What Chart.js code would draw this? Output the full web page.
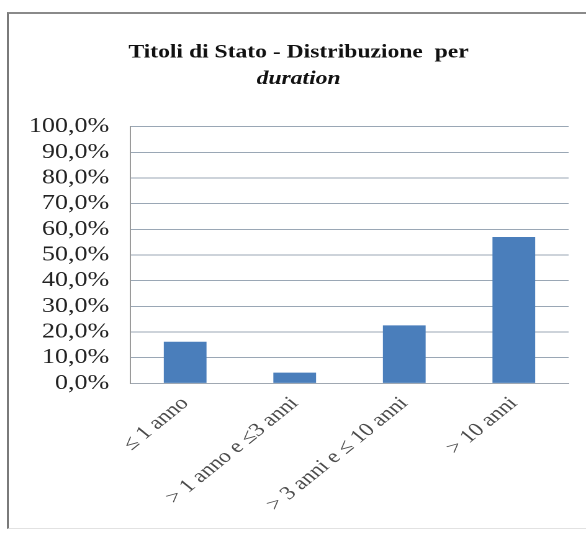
<!DOCTYPE html>
<html>
<head>
<meta charset="utf-8">
<script src="https://cdn.jsdelivr.net/npm/chart.js@4/dist/chart.umd.min.js"></script>
<style>
  html, body { margin: 0; padding: 0; background: #ffffff; }
  body { width: 586px; height: 534px; position: relative; overflow: hidden; }
  /* chart frame, open on the right side */
  #frame {
    position: absolute; left: 7px; top: 12px; width: 700px; height: 517px;
    border-left: 2px solid #7a7a7a; border-top: 2px solid #8a8a8a;
    border-bottom: 1px solid #e2e2e2; box-sizing: border-box;
  }
  /* the drawing is widened horizontally, like the printed figure */
  #wrap {
    position: absolute; left: 0; top: 0; width: 472px; height: 534px;
    transform: scaleX(1.2415); transform-origin: 0 0;
  }
</style>
</head>
<body>
<div id="frame"></div>
<div id="wrap"><canvas id="c"></canvas></div>
<script>
const categories = ['≤ 1 anno', '> 1 anno e ≤3 anni', '> 3 anni e ≤ 10 anni', '> 10 anni'];
const shares = [16.2, 4.2, 22.6, 57.0];
const yTicks = [0, 10, 20, 30, 40, 50, 60, 70, 80, 90, 100];

const fmtPct = v => v.toFixed(1).replace('.', ',') + '%';

new Chart(document.getElementById('c'), {
  type: 'bar',
  data: {
    labels: categories,
    datasets: [{
      data: shares,
      backgroundColor: '#4a7ebb',
      borderWidth: 0,
      categoryPercentage: 1,
      barPercentage: 0.39
    }]
  },
  options: {
    responsive: true,
    maintainAspectRatio: false,
    animation: false,
    devicePixelRatio: 2,
    layout: { padding: { top: 41, left: 23, right: 14, bottom: 9 } },
    plugins: {
      legend: { display: false },
      tooltip: { enabled: false },
      title: {
        display: true,
        text: 'Titoli di Stato - Distribuzione  per',
        color: '#111111',
        font: { family: 'Liberation Serif', size: 19, weight: 'bold', lineHeight: 1.2 },
        padding: { top: 0, bottom: 4 }
      },
      subtitle: {
        display: true,
        text: 'duration',
        color: '#111111',
        font: { family: 'Liberation Serif', size: 19, weight: 'bold', style: 'italic', lineHeight: 1.2 },
        padding: { top: 0, bottom: 36 }
      }
    },
    scales: {
      x: {
        grid: { display: false, drawTicks: false },
        border: { display: true, color: '#a0a8b2', width: 1 },
        ticks: {
          color: '#4a4a4a',
          font: { family: 'Liberation Serif', size: 19 },
          minRotation: 45,
          maxRotation: 45,
          autoSkip: false,
          padding: 9
        }
      },
      y: {
        min: 0,
        max: 100,
        afterBuildTicks: s => { s.ticks = yTicks.map(v => ({ value: v })); },
        afterFit: s => { s.width = 82; },
        grid: { color: '#9aa7b5', lineWidth: 1, drawTicks: false },
        border: { display: true, color: '#9a9a9a', width: 1 },
        ticks: {
          color: '#222222',
          font: { family: 'Liberation Serif', size: 21 },
          padding: 17,
          autoSkip: false,
          callback: v => fmtPct(v)
        }
      }
    }
  }
});
</script>
</body>
</html>
